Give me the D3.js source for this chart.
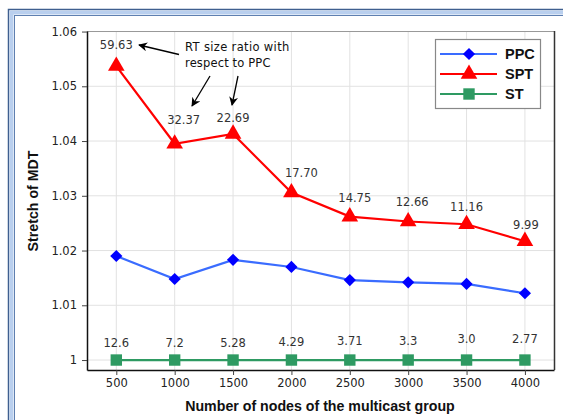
<!DOCTYPE html>
<html><head><meta charset="utf-8">
<script src="https://cdn.jsdelivr.net/npm/d3@7"></script>
<style>body{margin:0;background:#fff}svg{display:block}</style>
</head><body>
<svg id="c" width="563" height="420"></svg>
<script>
const nodes = [500, 1000, 1500, 2000, 2500, 3000, 3500, 4000];
const ppc = [1.0190, 1.0148, 1.0183, 1.0170, 1.0146, 1.0142, 1.0139, 1.0122];
const spt = [1.0537, 1.0395, 1.0413, 1.0306, 1.0262, 1.0253, 1.0248, 1.0217];
const st  = [1, 1, 1, 1, 1, 1, 1, 1];
const sptRatio = ["59.63", "32.37", "22.69", "17.70", "14.75", "12.66", "11.16", "9.99"];
const stRatio  = ["12.6", "7.2", "5.28", "4.29", "3.71", "3.3", "3.0", "2.77"];
const yTicks = [1, 1.01, 1.02, 1.03, 1.04, 1.05, 1.06];
const yTickLabels = ["1", "1.01", "1.02", "1.03", "1.04", "1.05", "1.06"];
const seriesNames = ["PPC", "SPT", "ST"];

const svg = d3.select("#c");
const m = {l: 87, t: 31, r: 554, b: 370};
const x = d3.scaleLinear().domain([249, 4249]).range([m.l, m.r]);
const y = d3.scaleLinear().domain([0.99818, 1.0601]).range([m.b, m.t]);

// frame
svg.append("rect").attr("x", 8.5).attr("y", 9.5).attr("width", 600).attr("height", 450)
  .attr("fill", "none").attr("stroke", "#3f5f8f").attr("stroke-width", 1.5);
svg.append("rect").attr("x", 11.5).attr("y", 12.5).attr("width", 600).attr("height", 450)
  .attr("fill", "none").attr("stroke", "#b9cfee").attr("stroke-width", 4);
svg.append("rect").attr("x", 14.5).attr("y", 15.5).attr("width", 600).attr("height", 450)
  .attr("fill", "none").attr("stroke", "#5e7fb0").attr("stroke-width", 1);

// grid
const g = svg.append("g");
g.selectAll(".gx").data(nodes).join("line")
  .attr("x1", d => x(d)).attr("x2", d => x(d)).attr("y1", m.t).attr("y2", m.b)
  .attr("stroke", "#e2e2e2").attr("stroke-width", 1);
g.selectAll(".gy").data(yTicks).join("line")
  .attr("x1", m.l).attr("x2", m.r).attr("y1", d => y(d)).attr("y2", d => y(d))
  .attr("stroke", "#e2e2e2").attr("stroke-width", 1);

// border: top gray, right dark
svg.append("line").attr("x1", m.l).attr("x2", m.r).attr("y1", m.t + 0.5).attr("y2", m.t + 0.5)
  .attr("stroke", "#999").attr("stroke-width", 1.2);
svg.append("line").attr("x1", m.r + 0.5).attr("x2", m.r + 0.5).attr("y1", m.t).attr("y2", m.b)
  .attr("stroke", "#333").attr("stroke-width", 1.5);

// axes
const xAxis = d3.axisBottom(x).tickValues(nodes).tickFormat(d3.format("d")).tickSize(5).tickPadding(4).tickSizeOuter(0);
const yAxis = d3.axisLeft(y).tickValues(yTicks).tickFormat((d, i) => yTickLabels[i]).tickSize(5).tickPadding(5).tickSizeOuter(0);
const gx = svg.append("g").attr("transform", `translate(0,${m.b})`).call(xAxis);
const gy = svg.append("g").attr("transform", `translate(${m.l},0)`).call(yAxis);
[gx, gy].forEach(a => {
  a.select(".domain").attr("stroke", "#111").attr("stroke-width", 1.5);
  a.selectAll(".tick line").attr("stroke", "#444");
  a.selectAll(".tick text").attr("font-family", "DejaVu Sans, sans-serif").attr("font-size", 11.5).attr("fill", "#222");
});

// lines
const line = d3.line().x((d, i) => x(nodes[i])).y(d => y(d));
svg.append("path").datum(ppc).attr("d", line).attr("fill", "none").attr("stroke", "#3a6cff").attr("stroke-width", 2.2);
svg.append("path").datum(spt).attr("d", line).attr("fill", "none").attr("stroke", "#ff0000").attr("stroke-width", 2.2);
svg.append("path").datum(st).attr("d", line).attr("fill", "none").attr("stroke", "#2e9a62").attr("stroke-width", 2.2);

const diamond = d3.symbol().type(d3.symbolDiamond2).size(95);
const tri = d3.symbol().type(d3.symbolTriangle).size(120);
const sq = d3.symbol().type(d3.symbolSquare).size(130);

svg.selectAll(".mp").data(ppc).join("path").attr("d", diamond)
  .attr("transform", (d, i) => `translate(${x(nodes[i])},${y(d)})`).attr("fill", "#0000ff");
svg.selectAll(".ms").data(spt).join("path").attr("d", tri)
  .attr("transform", (d, i) => `translate(${x(nodes[i])},${y(d)})`).attr("fill", "#ff0000");
svg.selectAll(".mt").data(st).join("path").attr("d", sq)
  .attr("transform", (d, i) => `translate(${x(nodes[i])},${y(d)})`).attr("fill", "#2e9a62");

// value labels
const sptDx = [0, 9, 0, 10, 5, 4, 0, 1];
const sptDy = [-21, -24, -16, -20, -19, -20, -17, -16];
svg.selectAll(".ls").data(sptRatio).join("text")
  .attr("x", (d, i) => x(nodes[i]) + sptDx[i]).attr("y", (d, i) => y(spt[i]) + sptDy[i] + 4)
  .attr("text-anchor", "middle").attr("font-family", "DejaVu Sans, sans-serif").attr("font-size", 11.5)
  .attr("fill", "#333").text(d => d);
const stDy = [-17, -17, -17, -18, -19, -19, -21, -21];
svg.selectAll(".lt").data(stRatio).join("text")
  .attr("x", (d, i) => x(nodes[i])).attr("y", (d, i) => y(st[i]) + stDy[i] + 4)
  .attr("text-anchor", "middle").attr("font-family", "DejaVu Sans, sans-serif").attr("font-size", 11.5)
  .attr("fill", "#333").text(d => d);

// annotation
const defs = svg.append("defs");
defs.append("marker").attr("id", "ah").attr("viewBox", "0 0 10 10").attr("refX", 9).attr("refY", 5)
  .attr("markerWidth", 9).attr("markerHeight", 9).attr("markerUnits", "userSpaceOnUse").attr("orient", "auto")
  .append("path").attr("d", "M0,0 L10,5 L0,10 L3,5 Z").attr("fill", "#000");
const ann = svg.append("g").attr("font-family", "DejaVu Sans, sans-serif").attr("font-size", 11.5)
  .attr("fill", "#111");
ann.append("text").attr("x", 185).attr("y", 51).attr("letter-spacing", 0.35).text("RT size ratio with");
ann.append("text").attr("x", 185).attr("y", 67).attr("letter-spacing", 0.15).text("respect to PPC");
const arrows = [[179, 54.5, 139, 45], [210, 76, 192, 106], [238, 76, 232, 105]];
svg.selectAll(".ar").data(arrows).join("line")
  .attr("x1", d => d[0]).attr("y1", d => d[1]).attr("x2", d => d[2]).attr("y2", d => d[3])
  .attr("stroke", "#000").attr("stroke-width", 1.3).attr("marker-end", "url(#ah)");

// axis titles
svg.append("text").attr("x", 320).attr("y", 411).attr("text-anchor", "middle")
  .attr("font-family", "Liberation Sans, Arial, sans-serif").attr("font-weight", "bold").attr("font-size", 14.2)
  .attr("fill", "#111").text("Number of nodes of the multicast group");
svg.append("text").attr("transform", "translate(38,201) rotate(-90)").attr("text-anchor", "middle")
  .attr("font-family", "Liberation Sans, Arial, sans-serif").attr("font-weight", "bold").attr("font-size", 14.2)
  .attr("fill", "#111").text("Stretch of MDT");

// legend
const lg = svg.append("g");
lg.append("rect").attr("x", 435.5).attr("y", 39.5).attr("width", 105).attr("height", 69)
  .attr("fill", "#fff").attr("stroke", "#888").attr("stroke-width", 1.2);
const lgColors = ["#3a6cff", "#ff0000", "#2e9a62"];
const lgMark = ["#0000ff", "#ff0000", "#2e9a62"];
const lgSym = [diamond, tri, sq];
seriesNames.forEach((n, i) => {
  const yy = 54 + i * 20;
  lg.append("line").attr("x1", 440).attr("x2", 497).attr("y1", yy).attr("y2", yy)
    .attr("stroke", lgColors[i]).attr("stroke-width", 2.2);
  lg.append("path").attr("d", lgSym[i]).attr("transform", `translate(469,${yy})`).attr("fill", lgMark[i]);
  lg.append("text").attr("x", 505).attr("y", yy + 5).attr("font-family", "Liberation Sans, Arial, sans-serif")
    .attr("font-weight", "bold").attr("font-size", 14.5).attr("fill", "#111").text(n);
});
</script>
</body></html>
